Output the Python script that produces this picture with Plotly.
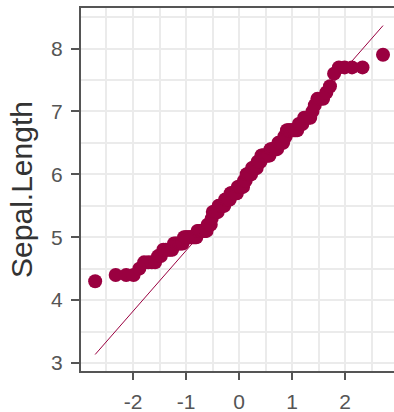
import plotly.graph_objects as go
from statistics import NormalDist

# Sample values (Sepal.Length), sorted
sepal_values = [4.3] + [4.4]*3 + [4.5] + [4.6]*4 + [4.7]*2 + [4.8]*5 + [4.9]*6 + \
    [5.0]*10 + [5.1]*9 + [5.2]*4 + [5.3] + [5.4]*6 + [5.5]*7 + [5.6]*6 + [5.7]*8 + \
    [5.8]*7 + [5.9]*3 + [6.0]*6 + [6.1]*6 + [6.2]*4 + [6.3]*9 + [6.4]*7 + [6.5]*5 + \
    [6.6]*2 + [6.7]*8 + [6.8]*3 + [6.9]*4 + [7.0] + [7.1] + [7.2]*3 + [7.3] + [7.4] + \
    [7.6] + [7.7]*4 + [7.9]
y_tick_vals = [3, 4, 5, 6, 7, 8]
x_tick_vals = [-2, -1, 0, 1, 2]
y_title = "Sepal.Length"

# stat_qq: theoretical quantiles
nd = NormalDist()
n = len(sepal_values)
theo = [nd.inv_cdf((i + 0.5) / n) for i in range(n)]

# qq line through quartiles
def quant(v, p):
    s = sorted(v)
    h = (len(s) - 1) * p
    lo = int(h)
    return s[lo] + (h - lo) * (s[min(lo + 1, len(s) - 1)] - s[lo])
q1, q3 = quant(sepal_values, 0.25), quant(sepal_values, 0.75)
slope = (q3 - q1) / (nd.inv_cdf(0.75) - nd.inv_cdf(0.25))
intercept = q1 - slope * nd.inv_cdf(0.25)
line_x = [theo[0], theo[-1]]
line_y = [intercept + slope * x for x in line_x]

col = "#9A0040"
fig = go.Figure()
fig.add_trace(go.Scatter(x=theo, y=sepal_values, mode="markers",
                         marker=dict(color=col, size=14, line=dict(width=0)),
                         showlegend=False))
fig.add_trace(go.Scatter(x=line_x, y=line_y, mode="lines",
                         line=dict(color=col, width=1), showlegend=False))

grid = "#EBEBEB"
axis_col = "#555555"
fig.update_layout(
    width=394, height=412, plot_bgcolor="white", paper_bgcolor="white",
    margin=dict(l=81, r=0, t=8, b=41),
    font=dict(family="Liberation Sans, Arial, sans-serif"),
    xaxis=dict(range=[-2.98, 2.92], tickvals=x_tick_vals,
               ticktext=[str(v) for v in x_tick_vals],
               showgrid=True, gridcolor=grid, gridwidth=2,
               minor=dict(dtick=1, tick0=0.5, showgrid=True, gridcolor=grid, gridwidth=1.5),
               showline=True, linecolor=axis_col, linewidth=2, mirror=True,
               ticks="outside", ticklen=7, tickcolor=axis_col, tickwidth=1.5,
               ticklabelstandoff=4,
               tickfont=dict(size=21, color="#555555"), zeroline=False),
    yaxis=dict(range=[2.873, 8.644], tickvals=y_tick_vals,
               ticktext=[str(v) for v in y_tick_vals],
               showgrid=True, gridcolor=grid, gridwidth=2,
               minor=dict(dtick=1, tick0=0.5, showgrid=True, gridcolor=grid, gridwidth=1.5),
               showline=True, linecolor=axis_col, linewidth=2, mirror=False,
               ticks="outside", ticklen=8, tickcolor=axis_col, tickwidth=1.5,
               ticklabelstandoff=4,
               tickfont=dict(size=21, color="#555555"), zeroline=False,
               title=dict(text=y_title, font=dict(size=30, color="#333333"), standoff=10)),
)
fig.write_html("out.html")
